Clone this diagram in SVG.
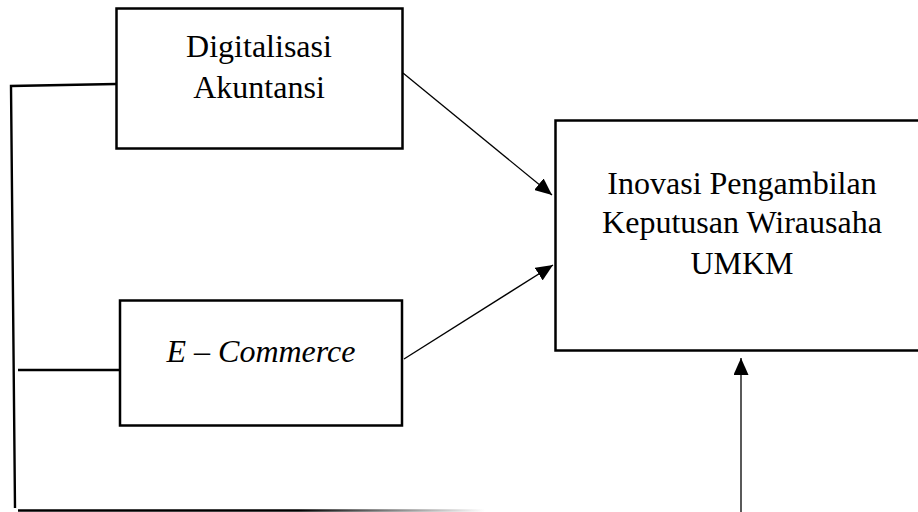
<svg xmlns="http://www.w3.org/2000/svg" width="918" height="512" viewBox="0 0 918 512">
<style>
.box{fill:#fff;stroke:#000;stroke-width:2.5}
.t{font-family:"Liberation Serif","Times New Roman",serif;font-size:32px;fill:#000;text-anchor:middle}
.it{font-style:italic}
.bar{fill:none;stroke:#000;stroke-width:2.4}
.arr{fill:none;stroke:#000;stroke-width:1.3;marker-end:url(#ah)}
</style>
<defs>
<marker id="ah" viewBox="0 0 10 10" refX="10" refY="5" markerWidth="17" markerHeight="15" markerUnits="userSpaceOnUse" orient="auto" preserveAspectRatio="none">
<path d="M0,0 L10,5 L0,10 z" fill="#000"/>
</marker>
<linearGradient id="fade" gradientUnits="userSpaceOnUse" x1="18" y1="0" x2="485" y2="0">
<stop offset="0" stop-color="#000"/>
<stop offset="0.6" stop-color="#000"/>
<stop offset="0.78" stop-color="#777"/>
<stop offset="1" stop-color="#fff"/>
</linearGradient>
</defs>
<g id="n1">
<rect class="box" x="116.5" y="8.5" width="286" height="140"/>
<text class="t" x="259" y="57">Digitalisasi</text>
<text class="t" x="259" y="98">Akuntansi</text>
</g>
<g id="n2">
<rect class="box" x="120" y="300.5" width="282" height="125"/>
<text class="t it" x="261" y="362">E – Commerce</text>
</g>
<g id="n3">
<rect class="box" x="555.5" y="120.5" width="370" height="230"/>
<text class="t" x="742" y="194">Inovasi Pengambilan</text>
<text class="t" x="742" y="233">Keputusan Wirausaha</text>
<text class="t" x="742" y="274">UMKM</text>
</g>
<g id="connectors">
<polyline class="bar" points="116,84 11,86 15,508"/>
<line class="bar" x1="18" y1="370" x2="120" y2="370"/>
<line x1="18" y1="510.5" x2="485" y2="510.5" stroke="url(#fade)" stroke-width="2.4"/>
<line class="arr" x1="403" y1="73" x2="552" y2="195"/>
<line class="arr" x1="404" y1="359" x2="553" y2="265"/>
<line class="arr" x1="741" y1="512" x2="741" y2="358"/>
</g>
</svg>
